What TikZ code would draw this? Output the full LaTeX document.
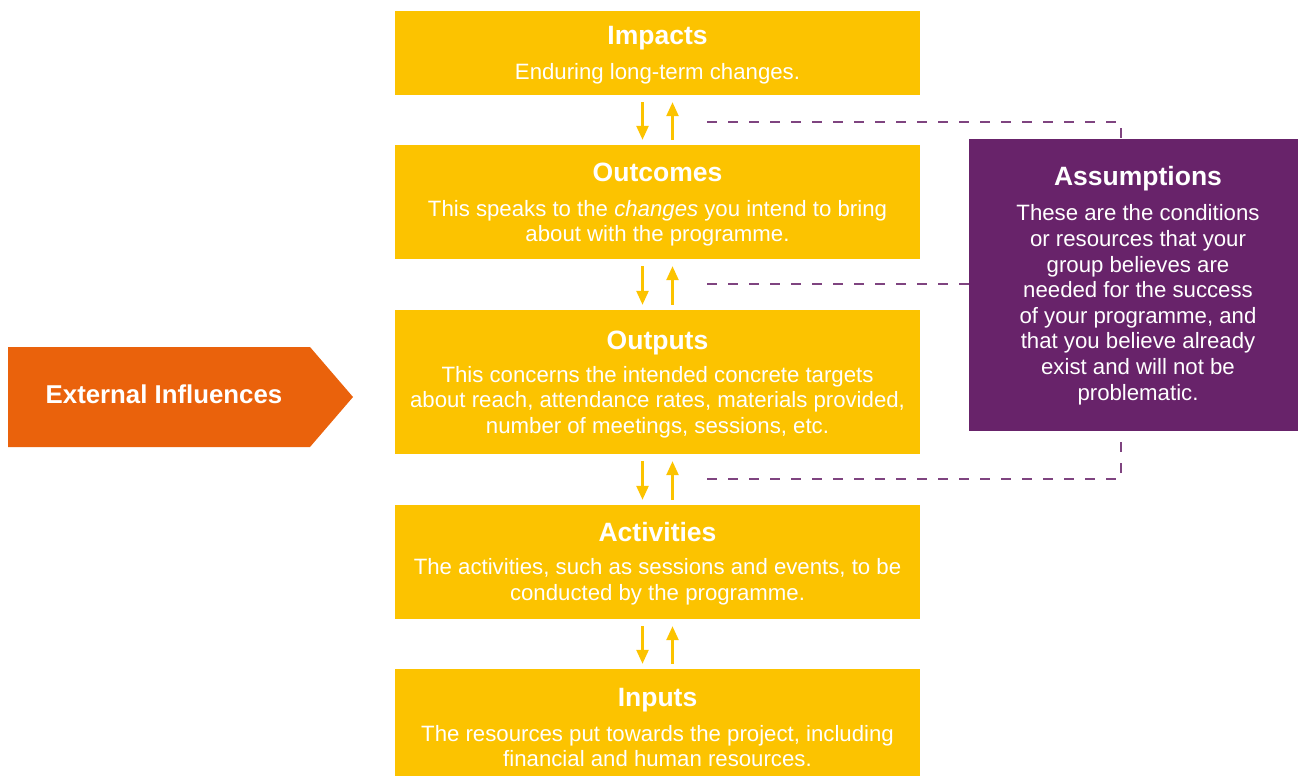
\documentclass[tikz,border=0pt]{standalone}
\usepackage{fontspec}
\setmainfont{Liberation Sans}
\usetikzlibrary{arrows.meta}
\definecolor{lmyellow}{RGB}{252,195,0}
\definecolor{lmorange}{RGB}{234,98,12}
\definecolor{lmpurple}{RGB}{104,35,106}
\begin{document}
\begin{tikzpicture}[x=1pt,y=-1pt,
 ybox/.style={fill=lmyellow, draw=none, inner sep=0pt, minimum width=525pt},
 pbox/.style={fill=lmpurple, draw=none, inner sep=0pt, minimum width=329pt, minimum height=292pt},
 ttl/.style={text=white, font=\fontsize{26.5}{28}\selectfont\bfseries, anchor=base, inner sep=0pt},
 bdy/.style={text=white, font=\fontsize{22.2}{25.6}\selectfont, align=center, anchor=base, inner sep=0pt},
 updown/.style={draw=lmyellow, line width=2.5pt, -{Triangle[width=12pt,length=14pt]}},
 dline/.style={draw=lmpurple!85, line width=1.2pt, dash pattern=on 10pt off 11pt}
]
\useasboundingbox (0,0) rectangle (1298,776);

% boxes
\node[ybox, minimum height=84pt]  (impacts)    at (657.5,53) {};
\node[ybox, minimum height=114pt] (outcomes)   at (657.5,202) {};
\node[ybox, minimum height=144pt] (outputs)    at (657.5,382) {};
\node[ybox, minimum height=114pt] (activities) at (657.5,562) {};
\node[ybox, minimum height=107pt] (inputs)     at (657.5,722.5) {};
\node[pbox] (assump) at (1133.5,285) {};

% texts (body nodes anchored at the baseline of their last line)
\node[ttl] (impactsT) at (657.5,44.3) {Impacts};
\node[bdy] (impactsB) at (657.5,80) {Enduring long-term changes.};
\node[ttl] (outcomesT) at (657.5,181.7) {Outcomes};
\node[bdy] (outcomesB) at (657.5,241.7) {This speaks to the \textit{changes} you intend to bring\\about with the programme.};
\node[ttl] (outputsT) at (657.5,349) {Outputs};
\node[bdy] (outputsB) at (657.5,433.3) {This concerns the intended concrete targets\\about reach, attendance rates, materials provided,\\number of meetings, sessions, etc.};
\node[ttl] (activitiesT) at (657.5,541) {Activities};
\node[bdy] (activitiesB) at (657.5,600) {The activities, such as sessions and events, to be\\conducted by the programme.};
\node[ttl] (inputsT) at (657.5,706.7) {Inputs};
\node[bdy] (inputsB) at (657.5,766.7) {The resources put towards the project, including\\financial and human resources.};
\node[ttl] (assumpT) at (1138,185) {Assumptions};
\node[bdy] (assumpB) at (1138,400) {These are the conditions\\or resources that your\\group believes are\\needed for the success\\of your programme, and\\that you believe already\\exist and will not be\\problematic.};

% external influences
\fill[lmorange] (8,347) -- (310,347) -- (353,397) -- (310,447) -- (8,447) -- cycle;
\node[ttl, font=\fontsize{25.8}{28}\selectfont\bfseries] (ext) at (164,403.3) {External Influences};

% arrows
\foreach \a/\b in {impacts/outcomes, outcomes/outputs, outputs/activities, activities/inputs}{
  \draw[updown] ([xshift=-15pt,yshift=-7pt]\a.south) -- ([xshift=-15pt,yshift=5pt]\b.north);
  \draw[updown] ([xshift=15pt,yshift=5pt]\b.north) -- ([xshift=15pt,yshift=-7pt]\a.south);
}

% dashed connectors
\coordinate (d1) at (707,122);
\coordinate (d2) at (707,284);
\coordinate (d3) at (707,479);
\draw[dline] (d1) -| ([xshift=-12.5pt]assump.north);
\draw[dline] (d2) -- (d2 -| assump.west);
\draw[dline] (d3) -| ([xshift=-12.5pt]assump.south);
\end{tikzpicture}
\end{document}
